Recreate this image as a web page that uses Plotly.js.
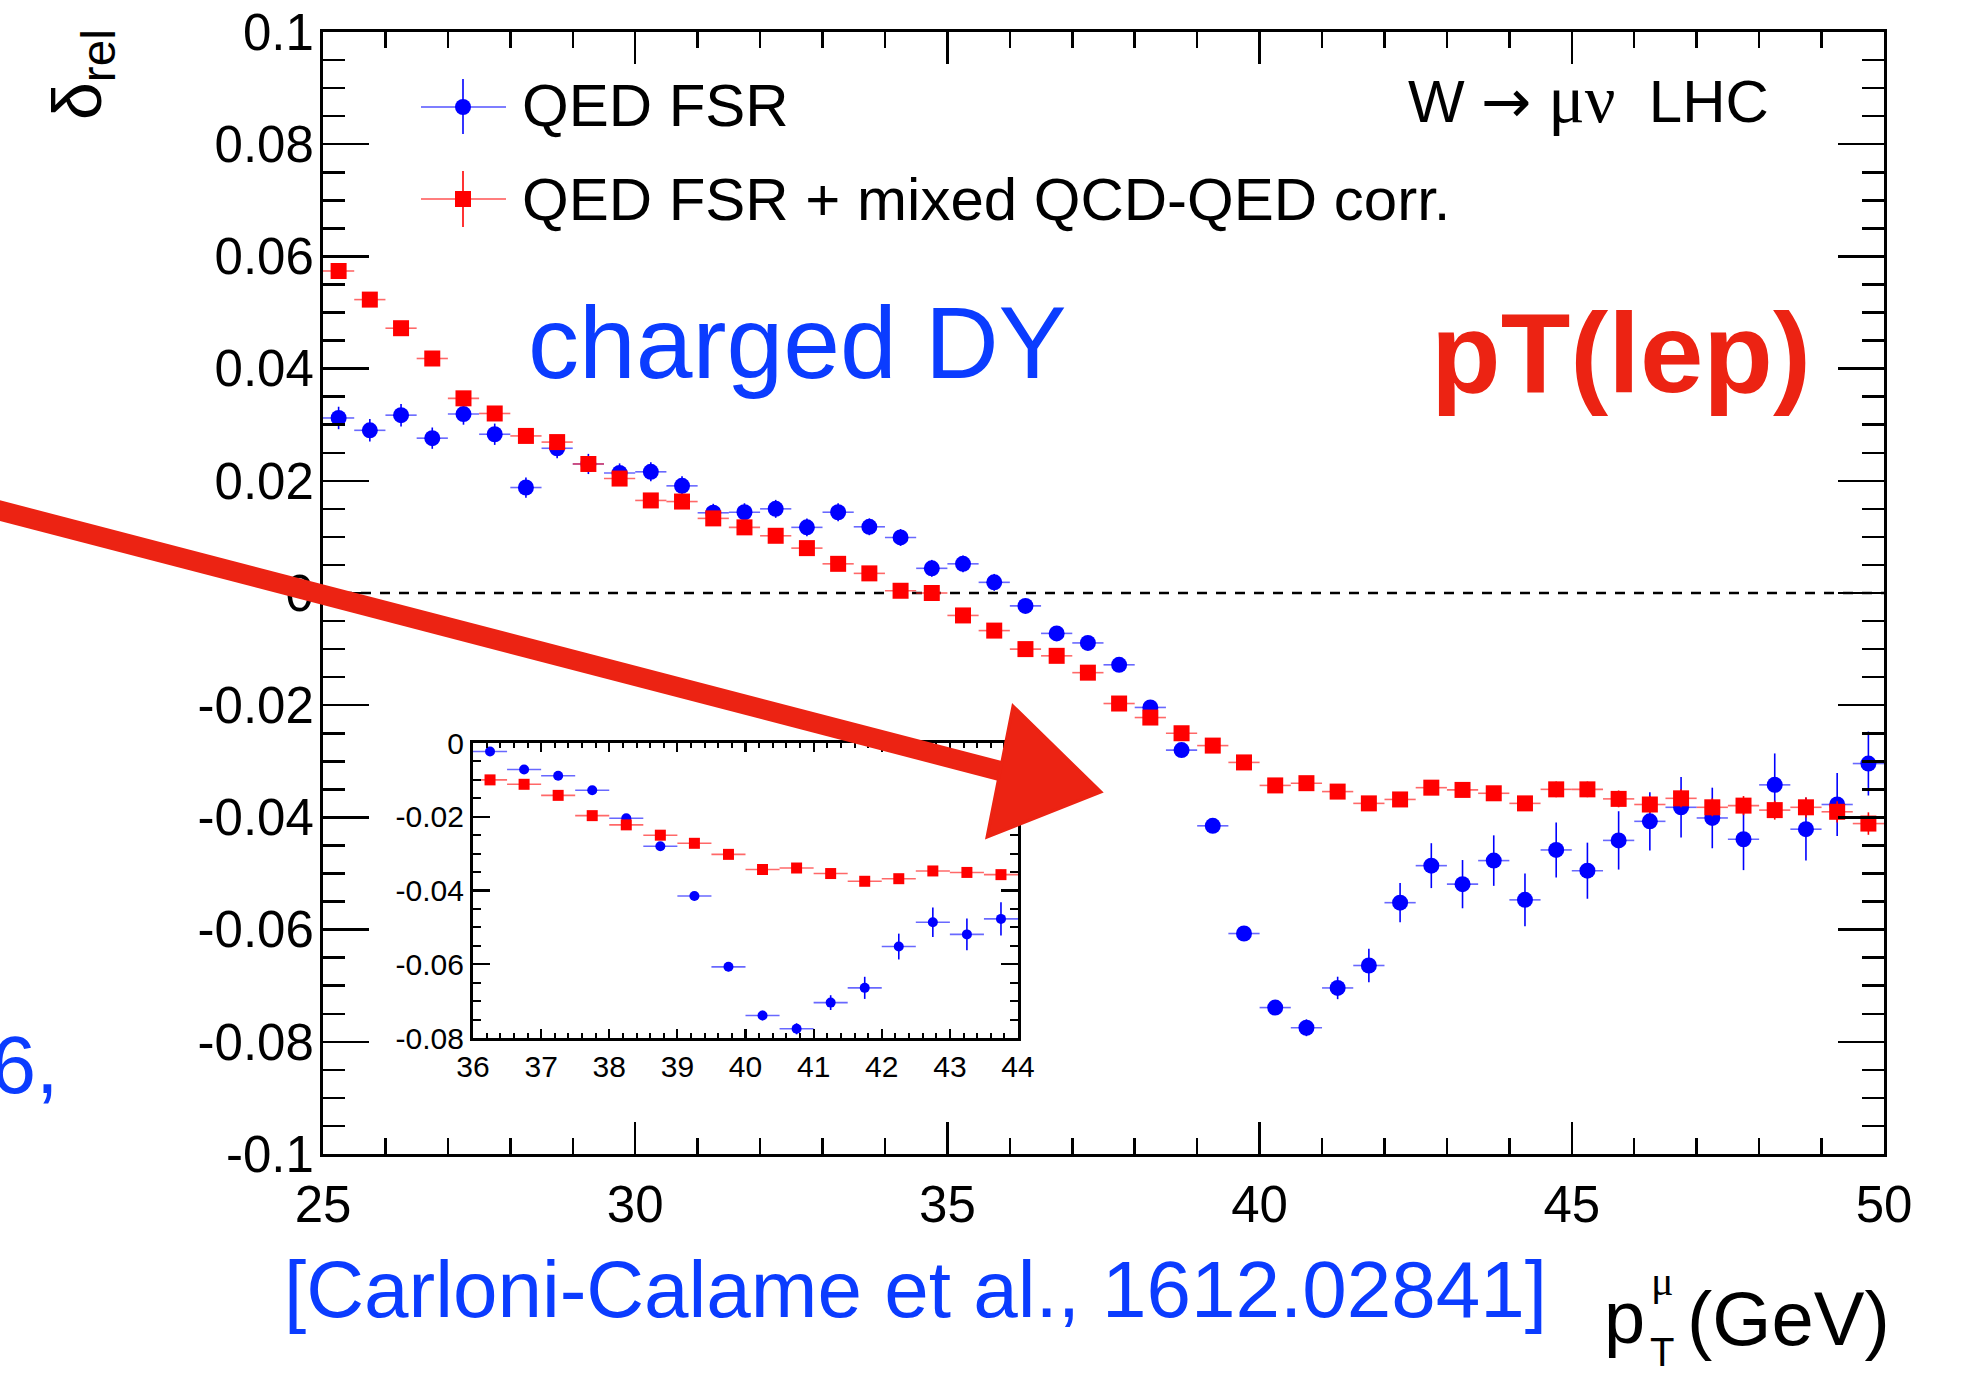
<!DOCTYPE html>
<html>
<head>
<meta charset="utf-8">
<script src="https://cdn.plot.ly/plotly-3.0.1.min.js"></script>
<style>
html,body{margin:0;padding:0;background:#ffffff;}
#chart{width:1963px;height:1375px;}
</style>
</head>
<body>
<div id="chart"></div>
<script>
// ---------------- data ----------------
const ptBinCenters = [25.25,25.75,26.25,26.75,27.25,27.75,28.25,28.75,29.25,29.75,
  30.25,30.75,31.25,31.75,32.25,32.75,33.25,33.75,34.25,34.75,
  35.25,35.75,36.25,36.75,37.25,37.75,38.25,38.75,39.25,39.75,
  40.25,40.75,41.25,41.75,42.25,42.75,43.25,43.75,44.25,44.75,
  45.25,45.75,46.25,46.75,47.25,47.75,48.25,48.75,49.25,49.75];
const binHalfWidth = 0.25;

const qedFsr = [0.0312,0.0290,0.0317,0.0276,0.0319,0.0283,0.0188,0.0258,0.0230,0.0214,
  0.0216,0.0191,0.0143,0.0144,0.0150,0.0117,0.0144,0.0118,0.0099,0.0044,
  0.0052,0.0019,-0.0023,-0.0072,-0.0089,-0.0128,-0.0204,-0.0280,-0.0415,-0.0607,
  -0.0739,-0.0775,-0.0704,-0.0664,-0.0552,-0.0486,-0.0519,-0.0477,-0.0547,-0.0458,
  -0.0495,-0.0441,-0.0407,-0.0382,-0.0401,-0.0439,-0.0342,-0.0421,-0.0377,-0.0304];
const qedFsrErr = [0.0020,0.0020,0.0020,0.0019,0.0019,0.0019,0.0018,0.0018,0.0018,0.0017,
  0.0017,0.0017,0.0016,0.0016,0.0016,0.0016,0.0016,0.0015,0.0015,0.0015,
  0.0015,0.0015,0.0010,0.0010,0.0010,0.0010,0.0010,0.0011,0.0011,0.0012,
  0.0013,0.0015,0.0020,0.0030,0.0035,0.0040,0.0043,0.0045,0.0047,0.0049,
  0.0050,0.0052,0.0052,0.0054,0.0054,0.0055,0.0056,0.0056,0.0056,0.0057];

const qedMixed = [0.0574,0.0523,0.0472,0.0418,0.0347,0.0320,0.0280,0.0269,0.0230,0.0204,
  0.0165,0.0163,0.0133,0.0117,0.0102,0.0080,0.0052,0.0035,0.0004,0.0000,
  -0.0040,-0.0067,-0.0100,-0.0112,-0.0142,-0.0197,-0.0222,-0.0250,-0.0272,-0.0302,
  -0.0343,-0.0339,-0.0354,-0.0375,-0.0368,-0.0347,-0.0351,-0.0357,-0.0375,-0.0350,
  -0.0350,-0.0367,-0.0377,-0.0366,-0.0382,-0.0379,-0.0387,-0.0382,-0.0390,-0.0411];
const qedMixedErr = [0.0008,0.0008,0.0008,0.0008,0.0008,0.0008,0.0008,0.0008,0.0008,0.0008,
  0.0008,0.0008,0.0008,0.0008,0.0008,0.0008,0.0008,0.0008,0.0008,0.0008,
  0.0008,0.0008,0.0009,0.0009,0.0009,0.0009,0.0009,0.0009,0.0009,0.0009,
  0.0009,0.0009,0.0009,0.0010,0.0011,0.0012,0.0012,0.0013,0.0013,0.0014,
  0.0014,0.0015,0.0015,0.0016,0.0016,0.0017,0.0017,0.0018,0.0019,0.0020];

const seriesNames = ['QED FSR', 'QED FSR + mixed QCD-QED corr.'];

const xTickVals = [25,30,35,40,45,50];
const xTickText = ['25','30','35','40','45','50'];
const yTickVals = [-0.1,-0.08,-0.06,-0.04,-0.02,0,0.02,0.04,0.06,0.08,0.1];
const yTickText = ['-0.1','-0.08','-0.06','-0.04','-0.02','0','0.02','0.04','0.06','0.08','0.1'];

const insetRange = [36,44];
const insetXTickVals = [36,37,38,39,40,41,42,43,44];
const insetXTickText = ['36','37','38','39','40','41','42','43','44'];
const insetYTickVals = [-0.08,-0.06,-0.04,-0.02,0];
const insetYTickText = ['-0.08','-0.06','-0.04','-0.02','0'];
const zeroLevel = 0;

// ---------------- layout geometry ----------------
const FONT = 'Liberation Sans, Arial, Helvetica, sans-serif';
const SERIF = 'Liberation Serif, Times New Roman, serif';
const W = 1963, H = 1375;
const L = 323, R = 1884, T = 32, B = 1154;
const pw = R - L, ph = B - T;
const px = v => (v - L) / pw;
const py = v => (B - v) / ph;

const BLUE = '#0000ff', RED = '#ff0000';
const TXT_BLUE = '#0b3cff', TXT_RED = '#ec2313';

// inset subset
const inIdx = ptBinCenters.map((x, i) => i).filter(i => ptBinCenters[i] > insetRange[0] && ptBinCenters[i] < insetRange[1]);
const pick = (arr) => inIdx.map(i => arr[i]);

function series(x, y, err, color, hcolor, symbol, size, xa, ya) {
  return {
    type: 'scatter', mode: 'markers', x: x, y: y, xaxis: xa, yaxis: ya,
    marker: {color: color, size: size, symbol: symbol, line: {width: 0}},
    error_y: {type: 'data', array: err, visible: true, color: color, thickness: 1.6, width: 0},
    error_x: {type: 'constant', value: binHalfWidth, visible: true, color: hcolor, thickness: 1.6, width: 0},
    hoverinfo: 'x+y', showlegend: false
  };
}

const traces = [
  Object.assign(series(ptBinCenters, qedFsr, qedFsrErr, BLUE, 'rgba(40,40,255,0.7)', 'circle', 16, 'x', 'y'), {name: seriesNames[0]}),
  Object.assign(series(ptBinCenters, qedMixed, qedMixedErr, RED, 'rgba(255,40,40,0.7)', 'square', 16, 'x', 'y'), {name: seriesNames[1]}),
  Object.assign(series(pick(ptBinCenters), pick(qedFsr), pick(qedFsrErr), BLUE, 'rgba(40,40,255,0.7)', 'circle', 10, 'x2', 'y2'), {name: seriesNames[0]}),
  Object.assign(series(pick(ptBinCenters), pick(qedMixed), pick(qedMixedErr), RED, 'rgba(255,40,40,0.7)', 'square', 11, 'x2', 'y2'), {name: seriesNames[1]})
];

// ---------------- annotations ----------------
function txt(text, size, xPx, basePx, xanchor, color, family) {
  return {
    xref: 'paper', yref: 'paper', x: px(xPx), y: py(basePx - 0.3465 * size),
    xanchor: xanchor, yanchor: 'middle', text: text, showarrow: false,
    font: {size: size, color: color, family: family || FONT}, borderpad: 0
  };
}

const annotations = [
  txt(seriesNames[0], 60, 521, 126, 'left', '#000'),
  txt(seriesNames[1], 60, 521, 220, 'left', '#000'),
  txt('W <span style="font-family:DejaVu Sans">\u2192</span> <span style="font-family:Liberation Serif;font-size:68px">\u03bc\u03bd</span>\u00a0\u00a0LHC', 60, 1770, 120, 'right', '#000'),
  txt('charged DY', 102, 527, 378, 'left', TXT_BLUE),
  txt('<b>pT(lep)</b>', 114, 1812, 392, 'right', TXT_RED),
  txt('[Carloni-Calame et al., 1612.02841]', 80, 283, 1317, 'left', TXT_BLUE),
  txt('6,', 81, 60, 1093, 'right', TXT_BLUE),
  txt('p', 74, 1603, 1343, 'left', '#000'),
  txt('\u03bc', 42, 1662, 1296, 'center', '#000', SERIF),
  txt('T', 40, 1662, 1366, 'center', '#000'),
  txt('(GeV)', 76, 1686, 1345, 'left', '#000'),
  {xref: 'paper', yref: 'paper', x: px(82), y: py(74), xanchor: 'center', yanchor: 'middle',
   text: '\u03b4<sub>rel</sub>', textangle: -90, showarrow: false,
   font: {size: 68, color: '#000', family: FONT}, borderpad: 0}
];

// ---------------- shapes ----------------
const P = (x, y) => px(x).toFixed(5) + ',' + py(y).toFixed(5);
const ARROW = '#ec2313';
const shapes = [
  // zero reference line
  {type: 'line', xref: 'paper', yref: 'y', x0: 0, x1: 1, y0: zeroLevel, y1: zeroLevel,
   line: {color: '#000', width: 2.6, dash: '10px,9px'}, layer: 'below'},
  // legend: QED FSR
  {type: 'line', xref: 'paper', yref: 'paper', x0: px(421), x1: px(506), y0: py(107), y1: py(107), line: {color: 'rgba(40,40,255,0.8)', width: 1.6}},
  {type: 'line', xref: 'paper', yref: 'paper', x0: px(463), x1: px(463), y0: py(79), y1: py(134), line: {color: BLUE, width: 1.6}},
  {type: 'circle', xref: 'paper', yref: 'paper', x0: px(455), x1: px(471), y0: py(99), y1: py(115), fillcolor: BLUE, line: {width: 0}},
  // legend: mixed
  {type: 'line', xref: 'paper', yref: 'paper', x0: px(421), x1: px(506), y0: py(199), y1: py(199), line: {color: 'rgba(255,40,40,0.8)', width: 1.6}},
  {type: 'line', xref: 'paper', yref: 'paper', x0: px(463), x1: px(463), y0: py(171), y1: py(227), line: {color: RED, width: 1.6}},
  {type: 'rect', xref: 'paper', yref: 'paper', x0: px(455), x1: px(471), y0: py(191), y1: py(207), fillcolor: RED, line: {width: 0}},
  // hand-drawn arrow
  {type: 'path', xref: 'paper', yref: 'paper', path: 'M' + P(-10, 508) + ' L' + P(1004, 772),
   line: {color: ARROW, width: 20}},
  {type: 'path', xref: 'paper', yref: 'paper', path: 'M' + P(1013, 706) + ' L' + P(1101, 792) + ' L' + P(987, 837) + ' Z',
   fillcolor: ARROW, line: {color: ARROW, width: 3}}
];

// ---------------- axes ----------------
function axis(extra) {
  return Object.assign({
    showline: true, linecolor: '#000', mirror: 'ticks', ticks: 'inside',
    tickcolor: '#000', showgrid: false, zeroline: false, tickmode: 'array',
    tickfont: {family: FONT, size: 51, color: '#000'}, fixedrange: true
  }, extra);
}

const layout = {
  width: W, height: H,
  margin: {l: L, r: W - R, t: T, b: H - B, pad: 0},
  paper_bgcolor: '#ffffff', plot_bgcolor: '#ffffff',
  font: {family: FONT, color: '#000'},
  showlegend: false,
  xaxis: axis({domain: [0, 1], anchor: 'y', range: [25, 50], tickvals: xTickVals, ticktext: xTickText,
    ticklen: 32, tickwidth: 2.5, linewidth: 3, ticklabelstandoff: 4,
    minor: {tickmode: 'linear', tick0: 25, dtick: 1, ticks: 'inside', ticklen: 16, tickwidth: 2.5, tickcolor: '#000', showgrid: false}}),
  yaxis: axis({domain: [0, 1], anchor: 'x', range: [-0.1, 0.1], tickvals: yTickVals, ticktext: yTickText,
    ticklen: 46, tickwidth: 2.5, linewidth: 3, ticklabelstandoff: -4,
    minor: {tickmode: 'linear', tick0: 0, dtick: 0.005, ticks: 'inside', ticklen: 22, tickwidth: 2.5, tickcolor: '#000', showgrid: false}}),
  xaxis2: axis({domain: [px(473), px(1018)], anchor: 'y2', range: insetRange, tickvals: insetXTickVals, ticktext: insetXTickText,
    ticklen: 9, tickwidth: 2.2, linewidth: 3, ticklabelstandoff: 0, tickfont: {family: FONT, size: 30, color: '#000'},
    minor: {tickmode: 'linear', tick0: 36, dtick: 0.2, ticks: 'inside', ticklen: 5, tickwidth: 2, tickcolor: '#000', showgrid: false}}),
  yaxis2: axis({domain: [py(1038), py(743)], anchor: 'x2', range: [-0.08, 0], tickvals: insetYTickVals, ticktext: insetYTickText,
    ticklen: 17, tickwidth: 2.2, linewidth: 3, ticklabelstandoff: 0, tickfont: {family: FONT, size: 30, color: '#000'},
    minor: {tickmode: 'linear', tick0: 0, dtick: 0.005, ticks: 'inside', ticklen: 8, tickwidth: 2, tickcolor: '#000', showgrid: false}}),
  annotations: annotations,
  shapes: shapes
};

Plotly.newPlot('chart', traces, layout, {displayModeBar: false, staticPlot: true});
</script>
</body>
</html>
